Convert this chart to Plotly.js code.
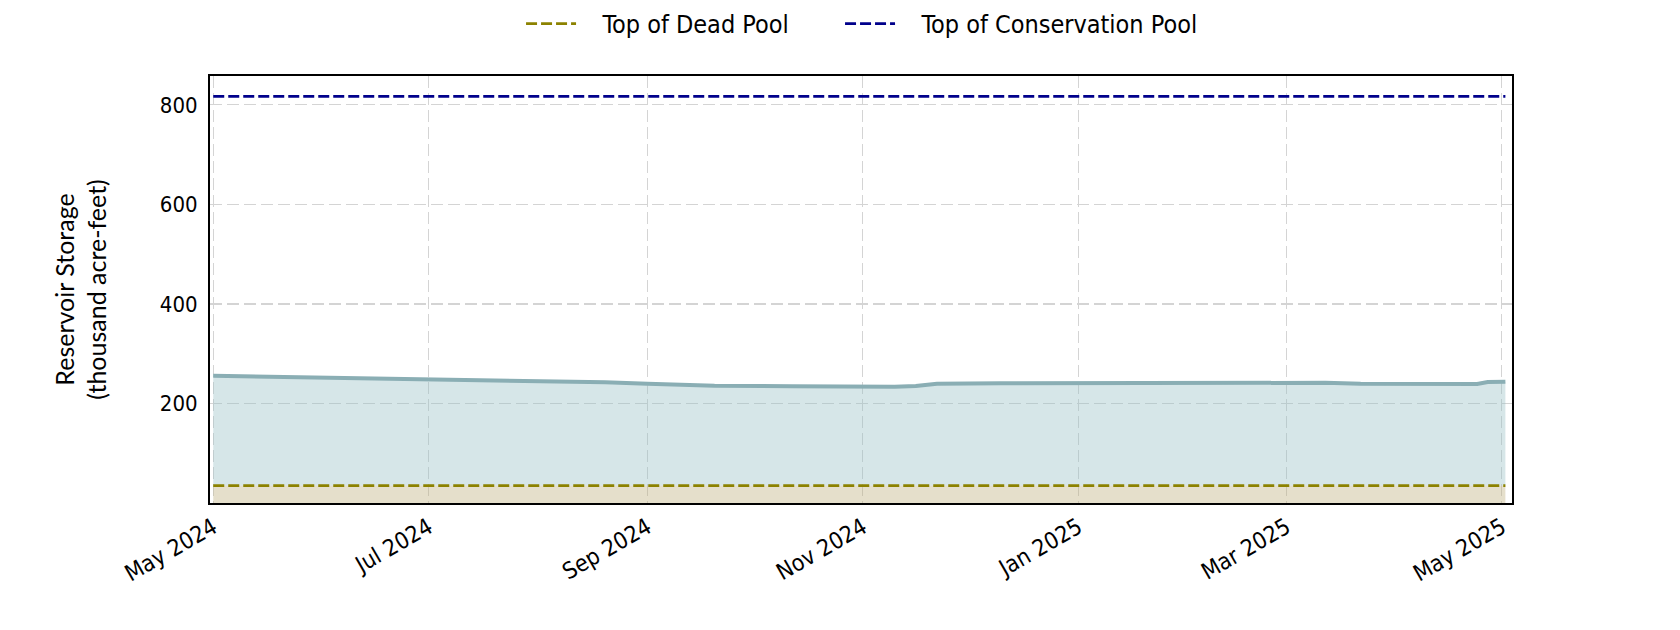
<!DOCTYPE html>
<html>
<head>
<meta charset="utf-8">
<script src="https://cdn.plot.ly/plotly-3.0.1.min.js"></script>
<style>
  html, body { margin: 0; padding: 0; background: #fff; }
  #chart { width: 1680px; height: 630px; }
</style>
</head>
<body>
<div id="chart"></div>
<script>
// Reservoir storage, thousand acre-feet
const dates = [
    '2024-05-01', '2024-05-09', '2024-05-20', '2024-05-31', '2024-06-15',
    '2024-07-01', '2024-07-21', '2024-08-09', '2024-08-20', '2024-09-01',
    '2024-09-20', '2024-10-12', '2024-11-01', '2024-11-10', '2024-11-16',
    '2024-11-22', '2024-12-10', '2025-01-01', '2025-02-03', '2025-02-17',
    '2025-03-01', '2025-03-12', '2025-03-22', '2025-04-15', '2025-04-24',
    '2025-04-27', '2025-05-02',
];
const storage = [
    255.5, 254.5, 253, 251.5, 251,
    249.5, 246.5, 243, 242.5, 239.5,
    235.5, 234.5, 232.5, 233.5, 235,
    239.5, 240.5, 241, 242, 240.5,
    241.5, 241.5, 239.5, 239.5, 239,
    243, 243.5,
];

const DEAD_POOL = 35;
const CONSERVATION_POOL = 817;

const TICK_FONT = '"Liberation Sans Narrow", "DejaVu Sans Condensed", sans-serif';
const TITLE_FONT = 'Lato, "Open Sans", sans-serif';

const first = dates[0];
const last = dates[dates.length - 1];
const PAD = '\u00a0\u00a0\u00a0';  // gap between legend sample and label

const traces = [
    // Dead pool band
    {
        x: dates,
        y: dates.map(() => DEAD_POOL),
        type: 'scatter',
        mode: 'lines',
        line: { width: 0 },
        fill: 'tozeroy',
        fillcolor: 'rgba(190,175,125,0.4)',
        showlegend: false,
        hoverinfo: 'skip',
    },
    // Storage
    {
        x: dates,
        y: storage,
        type: 'scatter',
        mode: 'lines',
        line: { color: '#8aaeb4', width: 4 },
        fill: 'tonexty',
        fillcolor: 'rgba(152,192,197,0.4)',
        showlegend: false,
        name: 'Storage',
    },
    {
        x: [first, last],
        y: [DEAD_POOL, DEAD_POOL],
        type: 'scatter',
        mode: 'lines',
        line: { color: '#8c8200', width: 2.8, dash: '11px,4px' },
        name: PAD + 'Top of Dead Pool',
        legend: 'legend',
    },
    {
        x: [first, last],
        y: [CONSERVATION_POOL, CONSERVATION_POOL],
        type: 'scatter',
        mode: 'lines',
        line: { color: '#00008b', width: 2.8, dash: '11px,4px' },
        name: PAD + 'Top of Conservation Pool',
        legend: 'legend2',
    },
];

function legendAt(x) {
    return {
        xref: 'paper',
        x: x,
        xanchor: 'left',
        yref: 'container',
        y: 0.962,
        yanchor: 'middle',
        font: { family: TICK_FONT, size: 25, color: '#000' },
        itemwidth: 50,
        bgcolor: 'rgba(0,0,0,0)',
    };
}

const layout = {
    width: 1680,
    height: 630,
    margin: { l: 210, r: 168, t: 76, b: 127 },
    paper_bgcolor: '#ffffff',
    plot_bgcolor: '#ffffff',
    showlegend: true,
    legend: legendAt(0.2389),
    legend2: legendAt(0.4839),
    xaxis: {
        type: 'date',
        range: ['2024-04-30 02:00', '2025-05-03 21:00'],
        tick0: '2024-05-01',
        dtick: 'M2',
        tickformat: '%b %Y',
        tickangle: -30,
        ticks: '',
        tickfont: { family: TICK_FONT, size: 23, color: '#000' },
        showgrid: true,
        gridcolor: '#d4d4d4',
        gridwidth: 1.3,
        griddash: '12px,5px',
        showline: true,
        linecolor: '#000',
        linewidth: 2,
        mirror: true,
        zeroline: false,
    },
    yaxis: {
        range: [0, 857.85],
        tickvals: [200, 400, 600, 800],
        ticks: '',
        ticklabelstandoff: 6,
        tickfont: { family: TICK_FONT, size: 22, color: '#000' },
        showgrid: true,
        gridcolor: '#d4d4d4',
        gridwidth: 1.3,
        griddash: '12px,5px',
        showline: true,
        linecolor: '#000',
        linewidth: 2,
        mirror: true,
        zeroline: false,
        title: {
            text: 'Reservoir Storage<br>(thousand acre-feet)',
            font: { family: TITLE_FONT, size: 25, color: '#000' },
            standoff: 46,
        },
    },
};

Plotly.newPlot('chart', traces, layout, { staticPlot: true, displayModeBar: false });
</script>
</body>
</html>
